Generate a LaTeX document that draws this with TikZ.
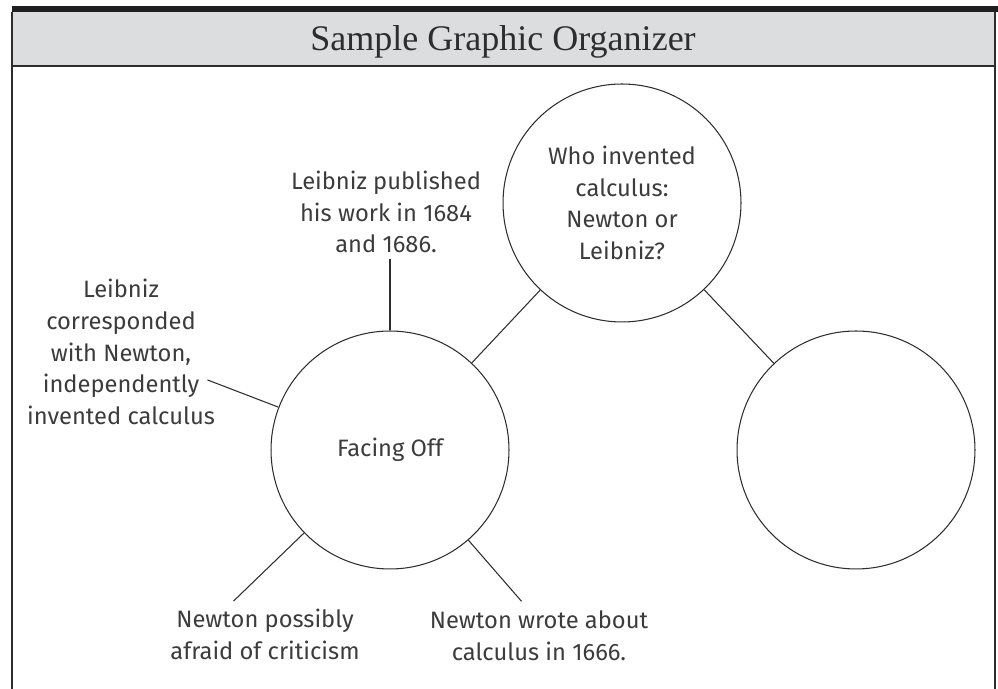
\documentclass[tikz,border=0pt]{standalone}
\usepackage{fontspec}
\usepackage{xcolor}
\usepackage{tikz}
\usetikzlibrary{positioning}
\setmainfont{Fira Sans}
\newfontfamily\titlefont{Liberation Serif}
\definecolor{bandgray}{RGB}{220,221,223}
\definecolor{inkgray}{RGB}{45,45,45}
\definecolor{textgray}{RGB}{60,60,60}

\begin{document}
\begin{tikzpicture}[x=0.02cm,y=0.02cm,line width=0.6pt,draw=inkgray]
\tikzstyle{bubble}=[circle,draw,minimum size=4.76cm,inner sep=0pt,align=center,text=textgray,font=\fontsize{13.5}{18.1}\selectfont]
\tikzstyle{note}=[align=center,inner sep=0pt,text=textgray,font=\fontsize{13.5}{18.1}\selectfont]

\useasboundingbox (0,0) rectangle (998,689);

% header and frame
\fill[bandgray] (12,623) rectangle (995,677);
\fill[black!88] (12,677) rectangle (998,683);
\draw[line width=0.9pt] (12,0) -- (12,677);
\draw[line width=0.9pt] (995,0) -- (995,677);
\draw[line width=0.9pt] (12,623) -- (995,623);
\node[anchor=base,inner sep=0pt,text=inkgray,font=\titlefont\fontsize{20.5}{24}\selectfont] (title) at (503,638) {Sample Graphic Organizer};

\node[bubble] (who) at (622,486) {Who invented\\calculus:\\Newton or\\Leibniz?};
\node[bubble] (face) at (390,239) {Facing Off};
\node[bubble] (blank) at (856,239) {};

\node[note] (pub) at (386,477) {Leibniz published\\his work in 1684\\and 1686.};
\node[note] (corr) at (121,337) {Leibniz\\corresponded\\with Newton,\\independently\\invented calculus};
\node[note] (afraid) at (265,55) {Newton possibly\\afraid of criticism};
\node[note] (wrote) at (539,53) {Newton wrote about\\calculus in 1666.};

\draw (who) -- (face);
\draw (who) -- (blank);
\draw (face.north) -- ++(0,71);
\draw (face.159) -- ++(159:76);
\draw (face.224) -- ++(224:98);
\draw (face.311) -- ++(311:81);

\end{tikzpicture}
\end{document}
